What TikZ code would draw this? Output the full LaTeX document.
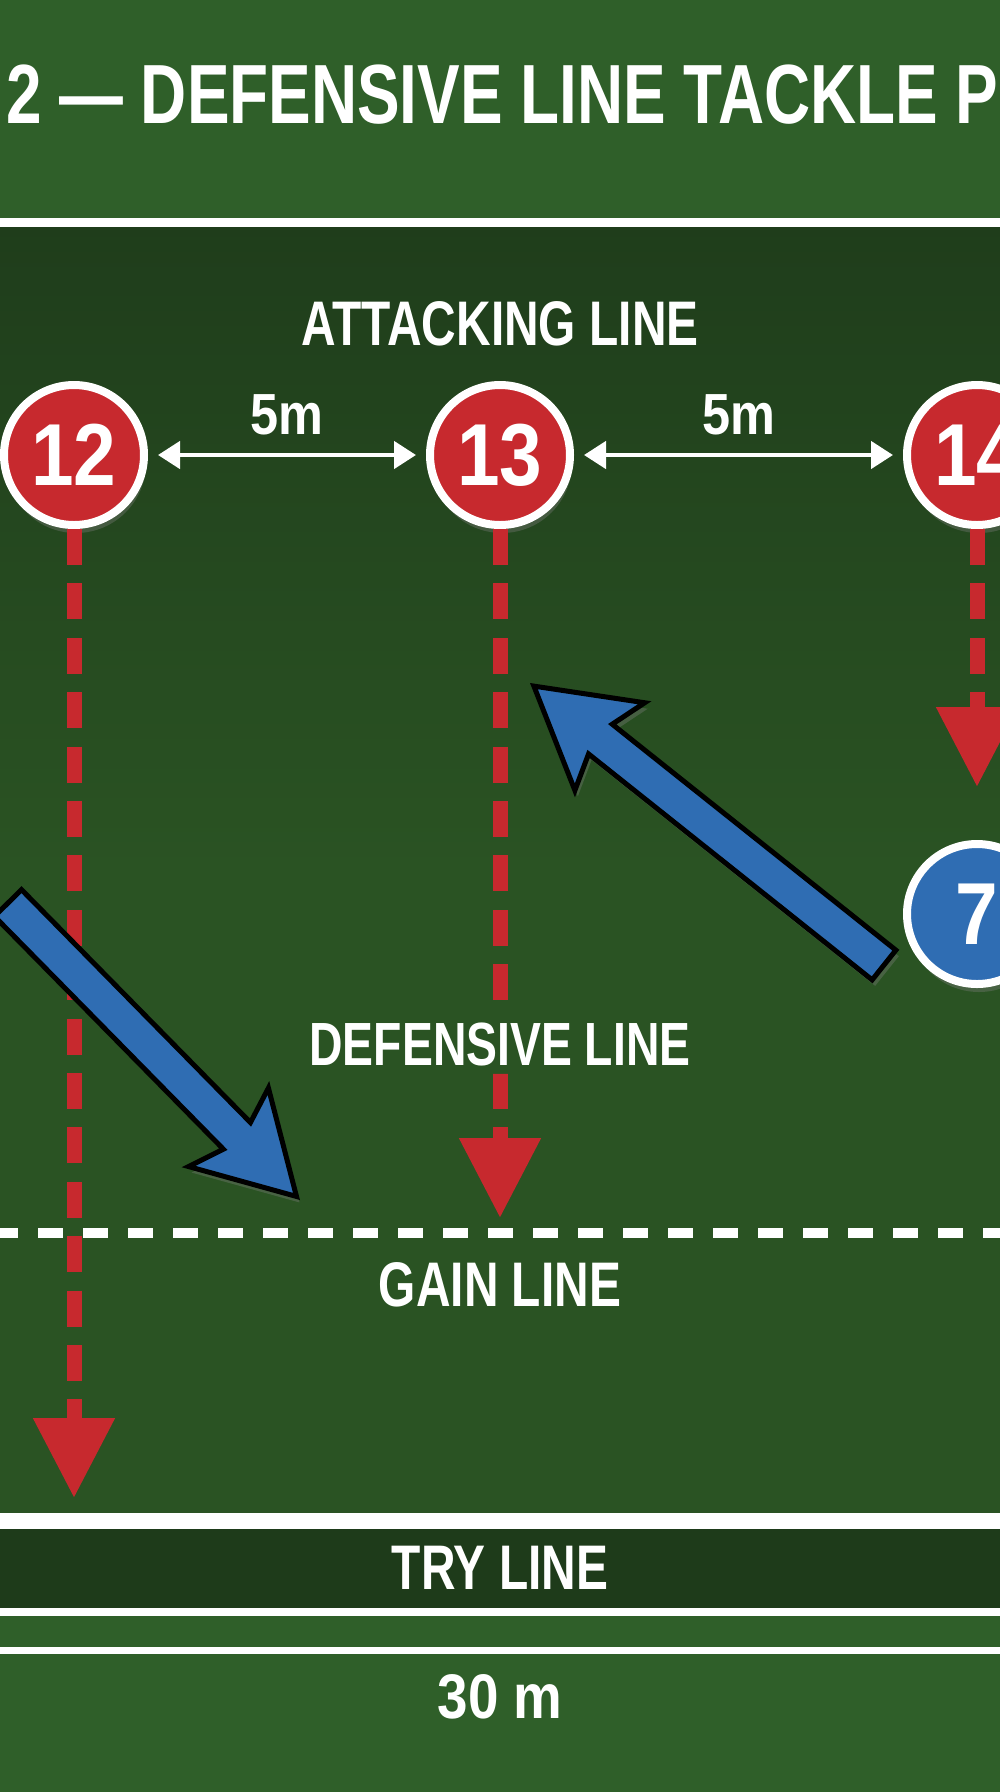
\documentclass[tikz,border=0pt]{standalone}
\usepackage{fontspec}
\newfontfamily\pitchfont[FakeStretch=0.76]{Liberation Sans}
\newfontfamily\numfont[FakeStretch=0.87]{Liberation Sans}
\usetikzlibrary{arrows.meta,calc,shadows}
\definecolor{grass}{HTML}{2F5F29}
\definecolor{grassdark}{HTML}{1F3D1B}
\definecolor{grassmid}{HTML}{2A5323}
\definecolor{tryzone}{HTML}{1E3B1A}
\definecolor{attred}{HTML}{C7292E}
\definecolor{defblue}{HTML}{2F6DB3}
\tikzset{
  player/.style = {circle, draw=white, line width=8pt, minimum size=140pt,
    inner sep=0pt, text=white, font=\numfont\bfseries\fontsize{88}{88}\selectfont,
    drop shadow={opacity=0.35, shadow xshift=2pt, shadow yshift=-8pt}},
  pl_att/.style = {player, fill=attred},% attacker
  pl_def/.style = {player, fill=defblue},% defender
  lbl/.style = {text=white, inner sep=0pt,
    font=\pitchfont\bfseries\fontsize{63}{63}\selectfont},
  lbl_n/.style = {lbl, font=\numfont\bfseries\fontsize{#1}{#1}\selectfont},% numbers
  arr_run/.style = {->, >={Triangle[length=80pt,width=78pt]}, attred,
    line width=15pt, dash pattern=on 36pt off 18.4pt},% attacking run
  arr_gap/.style = {<->, >={Triangle[length=22pt,width=27pt]}, white,
    line width=4.5pt, shorten <=10pt, shorten >=10pt},% 5m spacing
  pitchline/.style = {white, line width=#1}
}
% blue defender run: tail, tip
\newcommand\defrun[2]{%
  \coordinate (hn) at ($(#2)!90pt!(#1)$);
  \coordinate (hb) at ($(#2)!102pt!(#1)$);
  \filldraw[fill=defblue, draw=black, line width=5pt,
    drop shadow={opacity=0.35, shadow xshift=3pt, shadow yshift=-6pt}]
    ($(#1)!19pt!90:(#2)$) -- ($(hn)!19pt!90:(#2)$) -- ($(hb)!56pt!90:(#2)$)
    -- ($(#2)!5pt!(#1)$) -- ($(hb)!56pt!-90:(#2)$) -- ($(hn)!19pt!-90:(#2)$)
    -- ($(#1)!19pt!-90:(#2)$) -- cycle;
}

\begin{document}
\begin{tikzpicture}[x=1pt,y=-1pt]
    \useasboundingbox (0,0) rectangle (1000,1792);
    \clip (0,0) rectangle (1000,1792);
    % pitch
    \fill[grass] (0,0) rectangle (1000,222);
    \shade[top color=grassdark, bottom color=grassmid, middle color=grassmid]
        (0,222) rectangle (1000,1521);
    \fill[tryzone] (0,1521) rectangle (1000,1612);
    \fill[grass] (0,1612) rectangle (1000,1792);
    \draw[pitchline=9pt] (0,222) -- (1000,222);
    \draw[pitchline=16pt] (0,1521) -- (1000,1521);
    \draw[pitchline=8pt] (0,1612) -- (1000,1612);
    \draw[pitchline=7pt] (0,1650) -- (1000,1650);

    \node [lbl, anchor=west, font=\pitchfont\bfseries\fontsize{84}{84}\selectfont]
        (title) at (6,95) {2 — DEFENSIVE LINE TACKLE P};
    \node [lbl] (attlbl) at (500,324) {ATTACKING LINE};
    \node [lbl, font=\pitchfont\bfseries\fontsize{61}{61}\selectfont]
        (deflbl) at (500,1044) {DEFENSIVE LINE};
    \node [lbl] (gainlbl) at (500,1285) {GAIN LINE};
    \node [lbl] (trylbl) at (500,1568) {TRY LINE};
    \node [lbl_n=63] (widthlbl) at (500,1697) {30 m};

    \node [pl_att] (p12) at (74,455) {12};
    \node [pl_att] (p13) at (500,455) {13};
    \node [pl_att] (p14) at (977,455) {14};
    \node [pl_def] (p7) at (977,914) {7};

    \draw[arr_gap] (p12) -- node[lbl_n=58, above=18pt] {5m} (p13);
    \draw[arr_gap] (p13) -- node[lbl_n=58, above=18pt] {5m} (p14);

    % attacking runs
    \coordinate (t12) at (74,1498);
    \coordinate (t13) at (500,1218);
    \coordinate (t14) at (977,787);
    \foreach \p in {12,14}
        \draw[arr_run] (p\p) -- (t\p);
    \begin{scope}[even odd rule]
        \clip (0,0) rectangle (1000,1792)
            ($(deflbl.north east)+(6,-8)$) rectangle ($(deflbl.south west)+(-6,8)$);
        \draw[arr_run] (p13) -- (t13);
    \end{scope}

    % gain line
    \draw[white, line width=10pt, dash pattern=on 25pt off 20pt, dash phase=7pt]
        (0,1233) -- (1000,1233);

    % defender runs
    \coordinate (d6) at (8,903);
    \coordinate (h6) at (300,1200);
    \coordinate (d7) at (884,965);
    \coordinate (h7) at (530,683);
    \defrun{d6}{h6}
    \defrun{d7}{h7}
\end{tikzpicture}
\end{document}
